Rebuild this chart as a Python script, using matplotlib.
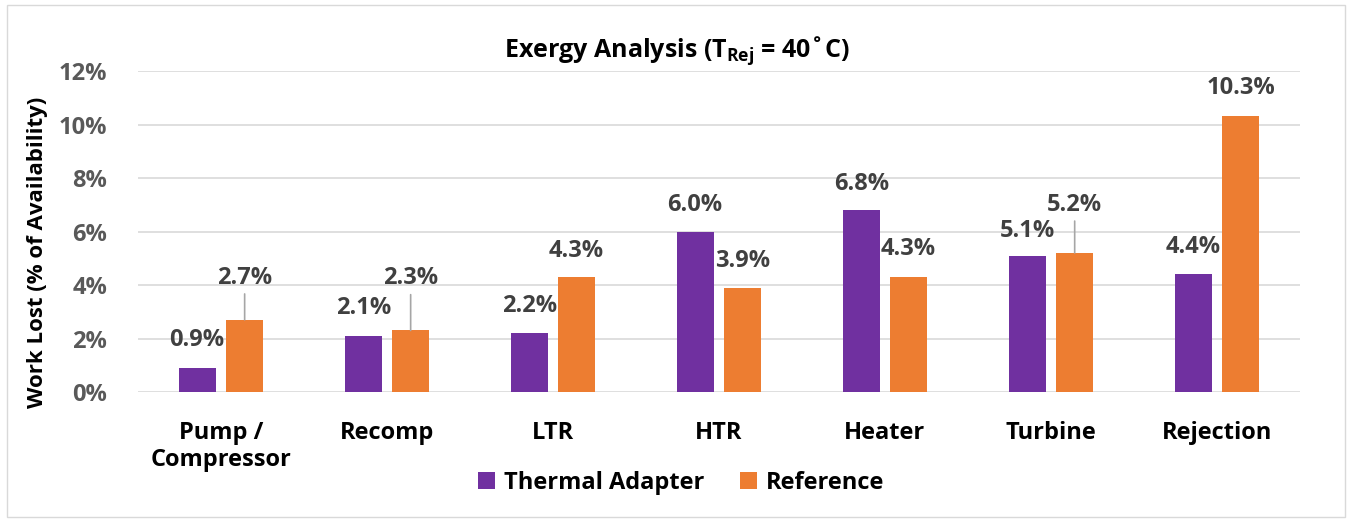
import numpy as np
import matplotlib.pyplot as plt
from matplotlib.patches import Rectangle

plt.rcParams['font.family'] = ['Open Sans', 'DejaVu Sans']
plt.rcParams['font.weight'] = 'bold'
plt.rcParams['mathtext.fontset'] = 'custom'
plt.rcParams['mathtext.rm'] = 'Open Sans:bold'
plt.rcParams['mathtext.bf'] = 'Open Sans:bold'

categories = ["Pump /\nCompressor", "Recomp", "LTR", "HTR", "Heater", "Turbine", "Rejection"]
thermal_adapter = [0.9, 2.1, 2.2, 6.0, 6.8, 5.1, 4.4]
reference = [2.7, 2.3, 4.3, 3.9, 4.3, 5.2, 10.3]

# label height above the bar top (pixels); raised labels get a leader line
ta_lift = [28, 28, 27, 27, 26, 25, 27]
ref_lift = [42, 52, 26, 27, 28, 48, 28]
ref_leader = [True, True, False, False, False, True, False]

purple = "#7030A0"
orange = "#ED7D31"

fig = plt.figure(figsize=(13.52, 5.21), dpi=100)
ax = fig.add_axes([0.102, 0.2476, 0.8595, 0.6161])

x = np.arange(len(categories))
w = 0.223
off = 0.143
b1 = ax.bar(x - off, thermal_adapter, w, color=purple, label="Thermal Adapter", zorder=3)
b2 = ax.bar(x + off, reference, w, color=orange, label="Reference", zorder=3)

fs = 17
lbl = dict(ha="center", va="center", fontsize=fs, fontweight="bold", color="#404040",
           textcoords="offset pixels")
for xi, v, dy in zip(x - off, thermal_adapter, ta_lift):
    ax.annotate(f"{v:.1f}%", (xi, v), xytext=(0, dy), **lbl)
for xi, v, dy, lead in zip(x + off, reference, ref_lift, ref_leader):
    if lead:
        ax.annotate(f"{v:.1f}%", (xi, v), xytext=(0, dy),
                    arrowprops=dict(arrowstyle="-", color="#A6A6A6", lw=1.2,
                                    shrinkA=1, shrinkB=0), **lbl)
    else:
        ax.annotate(f"{v:.1f}%", (xi, v), xytext=(0, dy), **lbl)

ax.set_xlim(-0.5, len(categories) - 0.5)
ax.set_ylim(0, 12)
ax.set_yticks(np.arange(0, 13, 2))
ax.set_yticklabels([f"{t}%" for t in range(0, 13, 2)])
ax.set_xticks(x)
ax.set_xticklabels(categories, linespacing=1.15)
ax.tick_params(axis="y", length=0, pad=22, labelsize=fs, labelcolor="#595959")
ax.tick_params(axis="x", length=0, pad=21, labelsize=fs, labelcolor="black")
for lab in ax.get_xticklabels() + ax.get_yticklabels():
    lab.set_fontweight("bold")
ax.grid(axis="y", color="#D9D9D9", lw=1.2, zorder=0)
for s in ax.spines.values():
    s.set_visible(False)

ax.set_ylabel("Work Lost (% of Availability)", fontsize=16, fontweight="bold")
ax.yaxis.set_label_coords(-0.077, 0.436)

fig.text(0.501, 0.904, r"Exergy Analysis (T$_{\mathrm{Rej}}$ = 40˚C)", ha="center", va="center",
         fontsize=18, fontweight="bold")

fig.legend(handles=[b1, b2], loc="center", bbox_to_anchor=(0.504, 0.073), ncol=2,
           frameon=False, fontsize=fs, handlelength=0.7, handleheight=0.7,
           columnspacing=1.5, handletextpad=0.4, borderpad=0, borderaxespad=0)

fig.patches.append(Rectangle((0.005, 0.008), 0.99, 0.982, transform=fig.transFigure,
                             fill=False, edgecolor="#D9D9D9", lw=1))

fig.savefig("out.png", dpi=100)
